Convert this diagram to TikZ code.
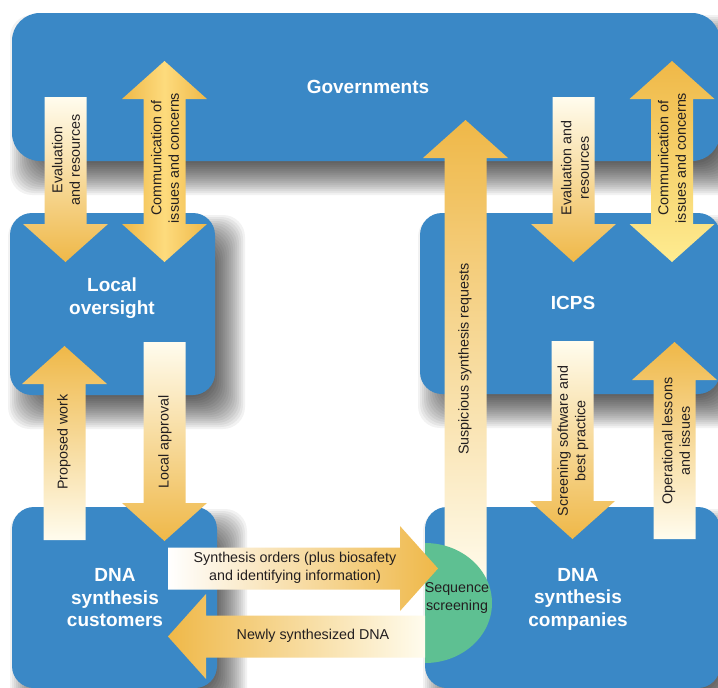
\documentclass[tikz,border=0pt]{standalone}
\usepackage{fontspec}
\setmainfont{Liberation Sans}
\usepackage{xcolor}
\usepackage{tikz}
\usetikzlibrary{calc}

\definecolor{boxblue}{RGB}{58,136,198}
\definecolor{arrorange}{RGB}{239,184,72}
\definecolor{arryellow}{RGB}{253,219,125}
\definecolor{arrpale}{RGB}{254,236,145}
\definecolor{arrcream}{RGB}{255,252,238}
\definecolor{screengreen}{RGB}{94,192,146}
\definecolor{labelgray}{RGB}{35,31,32}

%block arrows: options, centre, tail, tip
\newcommand{\arrowv}[4]{%
  \pgfmathsetmacro\hb{#4>#3 ? #4-38 : #4+38}%
  \shade[#1] (#2-21,#3) -- (#2-21,\hb) -- (#2-42.5,\hb) -- (#2,#4) -- (#2+42.5,\hb) -- (#2+21,\hb) -- (#2+21,#3) -- cycle;}
\newcommand{\arrowvv}[4]{%
  \shade[#1] (#2,#3) -- (#2+42.5,#3+38) -- (#2+21,#3+38) -- (#2+21,#4-38) -- (#2+42.5,#4-38) -- (#2,#4)
    -- (#2-42.5,#4-38) -- (#2-21,#4-38) -- (#2-21,#3+38) -- (#2-42.5,#3+38) -- cycle;}
\newcommand{\arrowh}[4]{%
  \pgfmathsetmacro\hb{#4>#3 ? #4-38 : #4+38}%
  \shade[#1] (#3,#2-21) -- (\hb,#2-21) -- (\hb,#2-42.5) -- (#4,#2) -- (\hb,#2+42.5) -- (\hb,#2+21) -- (#3,#2+21) -- cycle;}

%soft shadow below a box
\newcommand{\boxshadow}[4]{%
  \foreach \e in {16,14,...,-16}{
    \fill[black, opacity=0.05, rounded corners=22pt] (#1+14-\e,#2+18-\e) rectangle (#3+14+\e,#4+18+\e);}}

\tikzset{
  boxtitle/.style={text=white, font=\fontsize{19}{22.5}\selectfont\bfseries, align=center, inner sep=0pt},
  arrowtext/.style={text=labelgray, font=\fontsize{14.3}{17.5}\selectfont, align=center, inner sep=0pt}
}

\begin{document}
\begin{tikzpicture}[x=1pt, y=-1pt]
		\useasboundingbox (0,0) rectangle (718,688);
		\fill[white] (0,0) rectangle (718,688);
		
		%shadows
		\boxshadow{12}{13}{720}{161}
		\boxshadow{10}{213}{215}{395}
		\boxshadow{420}{213}{720}{394}
		\boxshadow{12}{507}{217}{688}
		\boxshadow{425}{507}{720}{688}
		
		%boxes
		\fill[boxblue, rounded corners=28pt] (12,13) rectangle (720,161);
		\fill[boxblue, rounded corners=22pt] (10,213) rectangle (215,395);
		\fill[boxblue, rounded corners=22pt] (420,213) rectangle (720,394);
		\fill[boxblue, rounded corners=22pt] (12,507) rectangle (217,688);
		\fill[boxblue, rounded corners=22pt] (425,507) rectangle (720,688);
		
		\node[boxtitle] (gov) at (368,87) {Governments};
		\node[boxtitle] (lo) at (112,298) {Local\\oversight};
		\node[boxtitle] (icps) at (573,303) {ICPS};
		\node[boxtitle] (cust) at (115,598) {DNA\\synthesis\\customers};
		\node[boxtitle] (comp) at (578,599) {DNA\\synthesis\\companies};
		
		%governments and local oversight
		\arrowv{top color=arrcream, bottom color=arrorange}{65.5}{97}{262}
		\arrowvv{left color=arrorange, right color=arrorange, middle color=arryellow}{164.5}{61}{262}
		
		%governments and ICPS
		\arrowv{top color=arrcream, bottom color=arrorange}{573.5}{97}{262}
		\arrowvv{top color=arrorange, bottom color=arrpale}{672}{61}{262}
		
		%local oversight and customers
		\arrowv{top color=arrorange, bottom color=arrcream}{64.5}{540}{346}
		\arrowv{top color=arrcream, bottom color=arrorange}{164.5}{342}{541}
		
		%ICPS and companies
		\arrowv{top color=arrcream, bottom color=arrorange}{572.5}{341}{539}
		\arrowv{top color=arrorange, bottom color=arrcream}{674.5}{539}{342}
		
		%suspicious requests
		\arrowv{top color=arrorange, bottom color=arrcream}{465.5}{590}{120}
		
		%sequence screening
		\fill[screengreen] (425,543) arc[start angle=90, end angle=-90, x radius=67, y radius=-60] -- cycle;
		
		%orders and delivery
		\arrowh{left color=white, right color=arrorange}{568.5}{168}{438}
		\arrowh{left color=arrorange, right color=arrcream}{636.5}{425}{168}
		
		%labels
		\node[arrowtext, rotate=90] (ev1) at (66,160) {Evaluation\\and resources};
		\node[arrowtext, rotate=90] (cm1) at (165,158) {Communication of\\issues and concerns};
		\node[arrowtext, rotate=90] (ev2) at (575,168) {Evaluation and\\resources};
		\node[arrowtext, rotate=90] (cm2) at (672,158) {Communication of\\issues and concerns};
		\node[arrowtext, rotate=90] (sus) at (465,359) {Suspicious synthesis requests};
		\node[arrowtext, rotate=90] (pw) at (64,442) {Proposed work};
		\node[arrowtext, rotate=90] (la) at (165,442) {Local approval};
		\node[arrowtext, rotate=90] (ss) at (573,441) {Screening software and\\best practice};
		\node[arrowtext, rotate=90] (ol) at (676,441) {Operational lessons\\and issues};
		\node[arrowtext] (so) at (295,568) {Synthesis orders (plus biosafety\\and identifying information)};
		\node[arrowtext] (nd) at (313,636) {Newly synthesized DNA};
		\node[arrowtext] (sq) at (457,598) {Sequence\\screening};
	\end{tikzpicture}
\end{document}
